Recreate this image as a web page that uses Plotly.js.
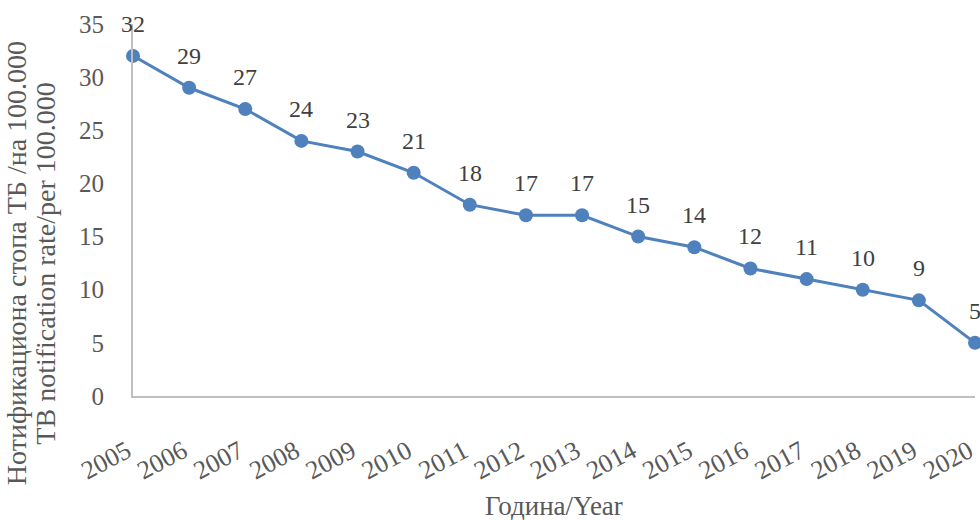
<!DOCTYPE html>
<html>
<head>
<meta charset="utf-8">
<script src="https://cdn.plot.ly/plotly-3.0.1.min.js"></script>
<style>html,body{margin:0;padding:0;background:#fff;}#chart{width:980px;height:520px;}</style>
</head>
<body>
<div id="chart"></div>
<script>
const years = ['2005','2006','2007','2008','2009','2010','2011','2012','2013','2014','2015','2016','2017','2018','2019','2020'];
const rates = [32,29,27,24,23,21,18,17,17,15,14,12,11,10,9,5];
const yTitleLines = ['Нотификациона стопа ТБ /на 100.000', 'ТВ notification rate/per 100.000'];
const xTitle = 'Година/Year';

const font = 'Liberation Serif, Times New Roman, serif';

const trace = {
  x: years,
  y: rates,
  type: 'scatter',
  mode: 'lines+markers',
  cliponaxis: false,
  line: {color: '#4f81bd', width: 3},
  marker: {color: '#4f81bd', size: 14},
  hoverinfo: 'x+y'
};

// category axis: annotation x uses the category serial number
const labelAnnotations = years.map((yr, i) => ({
  x: i, y: rates[i], xref: 'x', yref: 'y',
  text: String(rates[i]), showarrow: false,
  xanchor: 'center', yanchor: 'middle', yshift: 32,
  font: {family: font, size: 24, color: '#404040'}
}));

const layout = {
  width: 980, height: 520,
  margin: {l: 133, r: 5, t: 24, b: 124},
  paper_bgcolor: '#fff', plot_bgcolor: '#fff',
  showlegend: false,
  font: {family: font, color: '#595959'},
  xaxis: {
    type: 'category',
    range: [0, 15],
    showgrid: false, zeroline: false,
    showline: true, linecolor: '#bfbfbf', linewidth: 2,
    ticks: '', tickangle: -28,
    ticklabelstandoff: 28,
    ticklabelshift: -6,
    tickfont: {family: font, size: 26, color: '#595959'}
  },
  yaxis: {
    range: [0, 35], dtick: 5, tick0: 0,
    showgrid: false, zeroline: false,
    showline: true, linecolor: '#bfbfbf', linewidth: 2,
    ticks: '', ticklabelstandoff: 22,
    tickfont: {family: font, size: 25, color: '#595959'}
  },
  annotations: labelAnnotations.concat([
    {text: yTitleLines[0], xref: 'paper', yref: 'paper', x: -0.139, y: 0.357, textangle: -90,
     showarrow: false, xanchor: 'center', yanchor: 'middle', font: {family: font, size: 28, color: '#595959'}},
    {text: yTitleLines[1], xref: 'paper', yref: 'paper', x: -0.104, y: 0.357, textangle: -90,
     showarrow: false, xanchor: 'center', yanchor: 'middle', font: {family: font, size: 28, color: '#595959'}},
    {text: xTitle, xref: 'paper', yref: 'paper', x: 0.5, y: -0.296, showarrow: false,
     xanchor: 'center', yanchor: 'middle', font: {family: font, size: 27, color: '#595959'}}
  ])
};

Plotly.newPlot('chart', [trace], layout, {displayModeBar: false, staticPlot: true});
</script>
</body>
</html>
